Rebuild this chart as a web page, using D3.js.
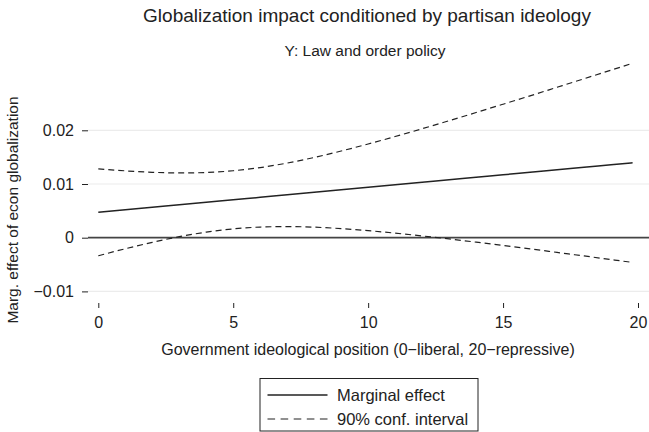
<!DOCTYPE html>
<html>
<head>
<meta charset="utf-8">
<script src="https://cdn.jsdelivr.net/npm/d3@7/dist/d3.min.js"></script>
<style>
  html, body { margin: 0; padding: 0; background: #fff; }
  svg { display: block; font-family: "Liberation Sans", Arial, Helvetica, sans-serif; }
</style>
</head>
<body>
<svg id="chart" width="649" height="432"></svg>
<script>
// Government ideological position (0 = liberal, 20 = repressive)
const ideology = [0, 1, 2, 3, 4, 5, 6, 7, 8, 9, 10, 11, 12, 13, 14, 15, 16, 17, 18, 19, 19.8];
// Marginal effect of economic globalization
const marginalEffect = [0.00473, 0.00520, 0.00566, 0.00613, 0.00659, 0.00706, 0.00752, 0.00799, 0.00845, 0.00892,
  0.00938, 0.00985, 0.01031, 0.01078, 0.01124, 0.01171, 0.01217, 0.01264, 0.01310, 0.01357, 0.01394];
// 90% confidence interval bounds
const ciUpper = [0.01283, 0.01245, 0.01218, 0.01206, 0.01214, 0.01247, 0.01306, 0.01390, 0.01494, 0.01614,
  0.01745, 0.01884, 0.02029, 0.02178, 0.02331, 0.02486, 0.02642, 0.02801, 0.02960, 0.03120, 0.03249];
const ciLower = [-0.00337, -0.00206, -0.00086, 0.00019, 0.00104, 0.00164, 0.00198, 0.00207, 0.00196, 0.00169,
  0.00131, 0.00085, 0.00033, -0.00023, -0.00083, -0.00145, -0.00208, -0.00274, -0.00340, -0.00407, -0.00461];

const xTicks = [0, 5, 10, 15, 20];
const yTicks = [-0.01, 0, 0.01, 0.02];
const yTickLabels = ["\u22120.01", "0", "0.01", "0.02"];

const titleText = "Globalization impact conditioned by partisan ideology";
const subtitleText = "Y: Law and order policy";
const xTitle = "Government ideological position (0\u2212liberal, 20\u2212repressive)";
const yTitle = "Marg. effect of econ globalization";
const legendLabels = ["Marginal effect", "90% conf. interval"];

const svg = d3.select("#chart");
const ink = "#222";
const x = d3.scaleLinear().domain([0, 20]).range([98.3, 638]);
const y = d3.scaleLinear().domain([-0.01, 0.02]).range([291.4, 130.3]);
const plotLeft = 88, plotRight = 649;
const centerX = 367;

// Titles
svg.append("text").attr("x", centerX).attr("y", 22).attr("text-anchor", "middle")
  .attr("font-size", 19).attr("fill", ink).text(titleText);
svg.append("text").attr("x", centerX - 2).attr("y", 56).attr("text-anchor", "middle")
  .attr("font-size", 15.5).attr("fill", ink).text(subtitleText);

// Horizontal grid lines
svg.append("g").selectAll("line").data(yTicks.filter(d => d !== 0)).join("line")
  .attr("x1", plotLeft).attr("x2", plotRight)
  .attr("y1", d => y(d)).attr("y2", d => y(d))
  .attr("stroke", "#ececec").attr("stroke-width", 1.2);

// Y axis (ticks and labels, no domain line)
const yAxis = svg.append("g").attr("transform", `translate(${plotLeft},0)`)
  .call(d3.axisLeft(y).tickValues(yTicks).tickSize(6).tickPadding(8)
    .tickFormat((d, i) => yTickLabels[i]));
yAxis.select(".domain").remove();
yAxis.selectAll("line").attr("stroke", ink);
yAxis.selectAll("text").attr("font-size", 16).attr("fill", ink)
  .attr("font-family", "Liberation Sans, Arial, sans-serif");

// X axis, offset below the plot region
const xAxis = svg.append("g").attr("transform", "translate(0,303)")
  .call(d3.axisBottom(x).tickValues(xTicks).tickSize(5).tickPadding(9).tickFormat(d3.format("d")));
xAxis.select(".domain").remove();
xAxis.selectAll("line").attr("stroke", ink);
xAxis.selectAll("text").attr("font-size", 16).attr("fill", ink)
  .attr("font-family", "Liberation Sans, Arial, sans-serif");

// Axis titles
svg.append("text").attr("x", 368).attr("y", 355).attr("text-anchor", "middle")
  .attr("font-size", 16).attr("fill", ink).text(xTitle);
svg.append("text").attr("transform", "translate(18,210) rotate(-90)").attr("text-anchor", "middle")
  .attr("font-size", 15.5).attr("fill", ink).text(yTitle);

// Reference line at zero
svg.append("line").attr("x1", plotLeft).attr("x2", plotRight)
  .attr("y1", y(0)).attr("y2", y(0))
  .attr("stroke", "#444").attr("stroke-width", 1.8);

// Series
const idx = d3.range(ideology.length);
const lineOf = vals => d3.line().x(i => x(ideology[i])).y(i => y(vals[i])).curve(d3.curveMonotoneX)(idx);

svg.append("path").attr("d", lineOf(marginalEffect))
  .attr("fill", "none").attr("stroke", ink).attr("stroke-width", 1.5);
[ciUpper, ciLower].forEach(vals => {
  svg.append("path").attr("d", lineOf(vals))
    .attr("fill", "none").attr("stroke", ink).attr("stroke-width", 1.2)
    .attr("stroke-dasharray", "6,4");
});

// Legend
const lg = svg.append("g");
lg.append("rect").attr("x", 260).attr("y", 378.5).attr("width", 218).attr("height", 52.5)
  .attr("fill", "#fff").attr("stroke", ink).attr("stroke-width", 1);
const legendRows = [{ y: 395, dash: null, w: 1.5 }, { y: 419, dash: "7.6,5.5", w: 1.2 }];
legendRows.forEach((r, i) => {
  lg.append("line").attr("x1", 267.5).attr("x2", 327.5).attr("y1", r.y).attr("y2", r.y)
    .attr("stroke", ink).attr("stroke-width", r.w).attr("stroke-dasharray", r.dash);
  lg.append("text").attr("x", 337).attr("y", r.y + 6).attr("font-size", 16.5).attr("fill", ink)
    .text(legendLabels[i]);
});
</script>
</body>
</html>
